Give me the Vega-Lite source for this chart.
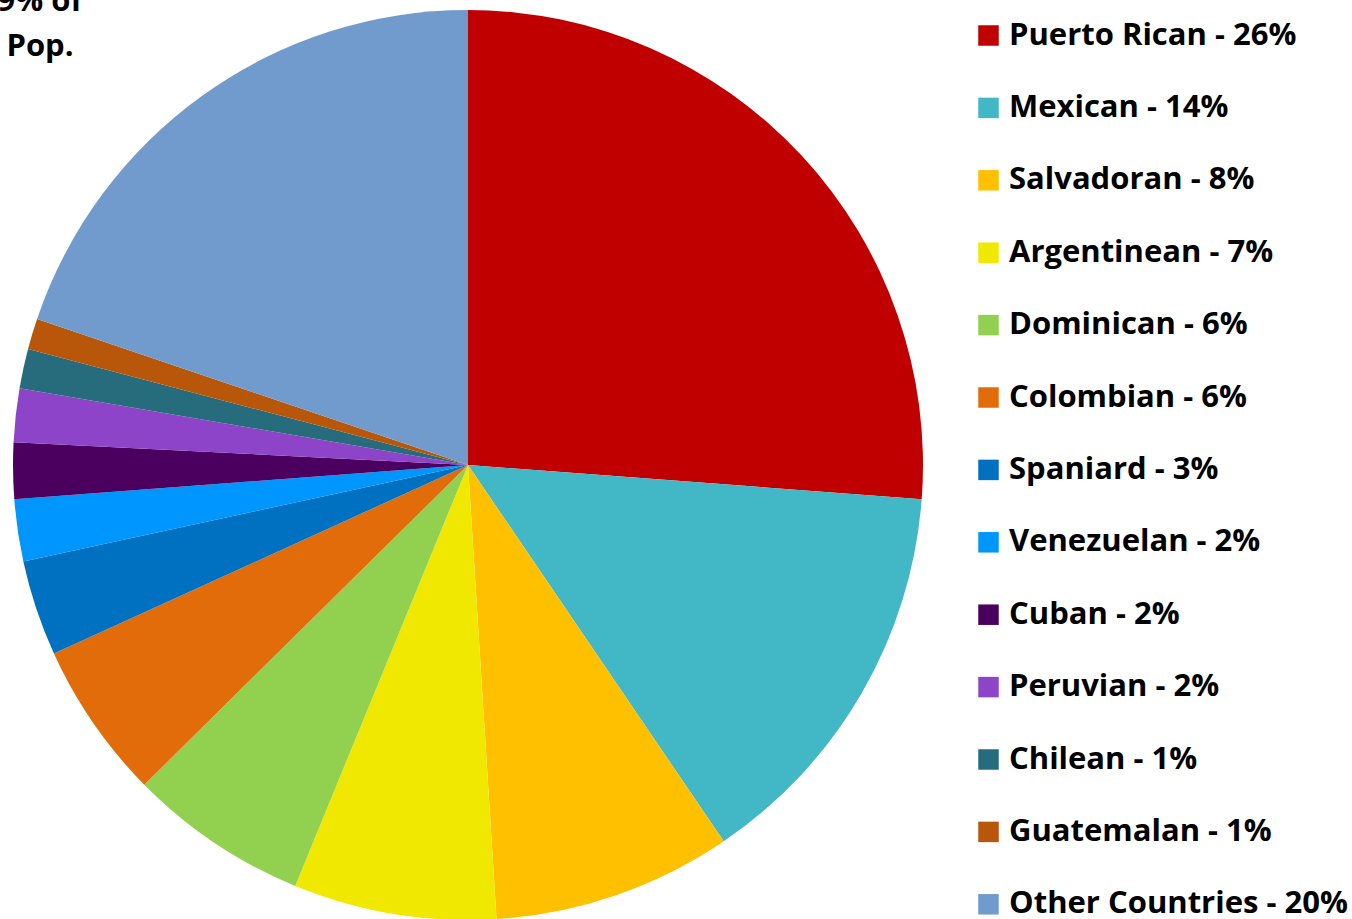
{
  "$schema": "https://vega.github.io/schema/vega-lite/v6.json",
  "width": 936,
  "height": 930,
  "autosize": {"type": "none"},
  "padding": {"left": 0, "top": 0, "right": 416, "bottom": 0},
  "background": "white",
  "title": {
    "text": ["9% of", "Pop."],
    "anchor": "start",
    "align": "center",
    "orient": "top",
    "frame": "group",
    "font": "Open Sans",
    "fontSize": 31,
    "fontWeight": "bold",
    "color": "black",
    "lineHeight": 45,
    "offset": 0,
    "dx": 40,
    "dy": 63
  },
  "data": {
    "values": [
      {"idx": 1, "label": "Puerto Rican - 26%", "pct": 26.2},
      {"idx": 2, "label": "Mexican - 14%", "pct": 14.3},
      {"idx": 3, "label": "Salvadoran - 8%", "pct": 8.5},
      {"idx": 4, "label": "Argentinean - 7%", "pct": 7.2},
      {"idx": 5, "label": "Dominican - 6%", "pct": 6.4},
      {"idx": 6, "label": "Colombian - 6%", "pct": 5.6},
      {"idx": 7, "label": "Spaniard - 3%", "pct": 3.4},
      {"idx": 8, "label": "Venezuelan - 2%", "pct": 2.2},
      {"idx": 9, "label": "Cuban - 2%", "pct": 2.0},
      {"idx": 10, "label": "Peruvian - 2%", "pct": 1.9},
      {"idx": 11, "label": "Chilean - 1%", "pct": 1.4},
      {"idx": 12, "label": "Guatemalan - 1%", "pct": 1.1},
      {"idx": 13, "label": "Other Countries - 20%", "pct": 19.8}
    ]
  },
  "mark": {"type": "arc", "outerRadius": 455},
  "encoding": {
    "theta": {"field": "pct", "type": "quantitative", "stack": true},
    "order": {"field": "idx", "type": "quantitative"},
    "color": {
      "field": "label",
      "type": "nominal",
      "sort": null,
      "scale": {
        "domain": ["Puerto Rican - 26%", "Mexican - 14%", "Salvadoran - 8%", "Argentinean - 7%", "Dominican - 6%", "Colombian - 6%", "Spaniard - 3%", "Venezuelan - 2%", "Cuban - 2%", "Peruvian - 2%", "Chilean - 1%", "Guatemalan - 1%", "Other Countries - 20%"],
        "range": ["#C00000", "#42B7C5", "#FFC000", "#F0E800", "#92D050", "#E36C0A", "#0070C0", "#0096FF", "#4B0060", "#8E44C8", "#266C7C", "#B8560A", "#729BCD"]
      },
      "legend": {
        "title": null,
        "orient": "none",
        "legendX": 973,
        "legendY": 20,
        "symbolType": "square",
        "symbolSize": 420,
        "symbolStrokeWidth": 0,
        "labelFont": "Open Sans",
        "labelFontSize": 31,
        "labelFontWeight": "bold",
        "labelColor": "black",
        "labelOffset": 5,
        "labelLimit": 400,
        "rowPadding": 40.4
      }
    }
  }
}
